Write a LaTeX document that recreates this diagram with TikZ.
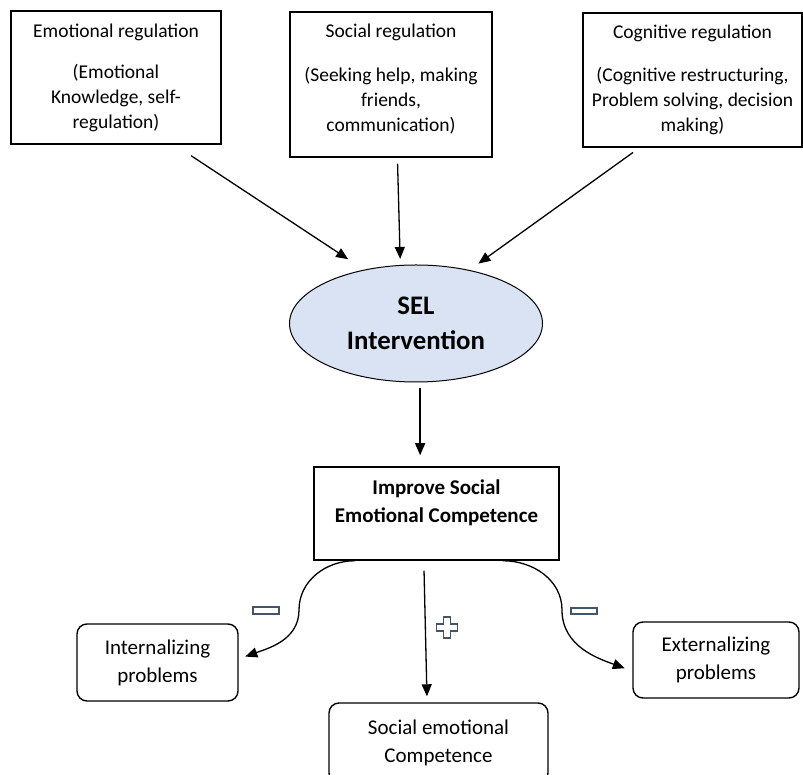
\documentclass[tikz,border=0pt]{standalone}
\usepackage{fontspec}
\setmainfont{Carlito}
\usepackage{xcolor}
\definecolor{selfill}{RGB}{218,227,243}
\definecolor{signcolor}{RGB}{68,84,106}
\usepackage{tikz}
\usetikzlibrary{arrows.meta, calc, shapes.geometric}

\begin{document}
\begin{tikzpicture}[
    x=1pt,y=1pt,
    regbox/.style={draw,line width=1.5pt,inner sep=0pt,align=center,
      font=\fontsize{19.5}{25}\selectfont},
    outbox/.style={draw,line width=1.4pt,rounded corners=10pt,inner sep=0pt,
      align=center,font=\fontsize{21}{28}\selectfont},
    conn/.style={-{Triangle[length=12pt,width=10pt]},line width=1.3pt},
    sign/.style={draw=signcolor,line width=1.4pt}
  ]
  \useasboundingbox (0,0) rectangle (803,774);
  \node[regbox,minimum width=210pt,minimum height=133pt] (emo) at (116,696.5)
    {Emotional regulation\\[16pt](Emotional\\Knowledge, self-\\regulation)};
  \node[regbox,minimum width=202pt,minimum height=145pt] (soc) at (391,689.5)
    {Social regulation\\[19.5pt](Seeking help, making\\friends,\\communication)\\[-11pt]\mbox{}};
  \node[regbox,minimum width=219pt,minimum height=134pt] (cog) at (692.5,694)
    {Cognitive regulation\\[17.5pt](Cognitive restructuring,\\Problem solving, decision\\making)};
  \node[ellipse,draw,line width=1pt,fill=selfill,minimum width=253pt,
    minimum height=117pt,inner sep=0pt,align=center,
    font=\bfseries\fontsize{26.8}{35}\selectfont] (sel) at (416,450.5)
    {SEL\\Intervention};
  \node[draw,line width=1.5pt,minimum width=245pt,minimum height=93pt,
    inner sep=0pt,align=center,font=\bfseries\fontsize{21}{28}\selectfont]
    (improve) at (436.5,260.5)
    {Improve Social\\Emotional Competence\\[-3.4pt]\mbox{}};
  \node[outbox,minimum width=161pt,minimum height=77pt] (intern) at (157.5,111.5)
    {Internalizing\\problems};
  \node[outbox,minimum width=219pt,minimum height=80pt] (social) at (438.5,31)
    {Social emotional\\Competence};
  \node[outbox,minimum width=166pt,minimum height=76pt] (extern) at (716,114)
    {Externalizing\\problems};
  \coordinate (bendL) at (299,164);
  \coordinate (bendR) at (562,164);
  \path[conn]
    (emo.-49) edge[shorten <=20pt,shorten >=19pt] (sel.134)
    (soc.-85) edge[shorten <=6pt,shorten >=6pt] (sel.105)
    (cog.-128) edge[shorten <=8pt,shorten >=11pt] (sel.45)
    (sel.-86) edge[shorten <=6pt,shorten >=11pt] (sel.-86 |- improve.north)
    ([xshift=-12.7pt]improve.south) edge[shorten <=10pt,shorten >=6pt]
      ([xshift=-11.4pt]social.north);
  \draw[conn,shorten >=7pt] ([xshift=-81.5pt]improve.south) to[out=180,in=90] (bendL)
    to[out=-90,in=20] ([yshift=3.5pt]intern.east);
  \draw[conn,shorten >=8pt] ([xshift=66.5pt]improve.south) to[out=0,in=90] (bendR)
    to[out=-90,in=160] ([yshift=-11pt]extern.west);
  \draw[sign] (253,160) rectangle (279,167);
  \draw[sign] (571,160) rectangle (597,166);
  \draw[sign] (443.5,157) -- ++(7,0) -- ++(0,-7) -- ++(7,0) -- ++(0,-7)
    -- ++(-7,0) -- ++(0,-7) -- ++(-7,0) -- ++(0,7) -- ++(-7,0) -- ++(0,7)
    -- ++(7,0) -- cycle;
\end{tikzpicture}
\end{document}
